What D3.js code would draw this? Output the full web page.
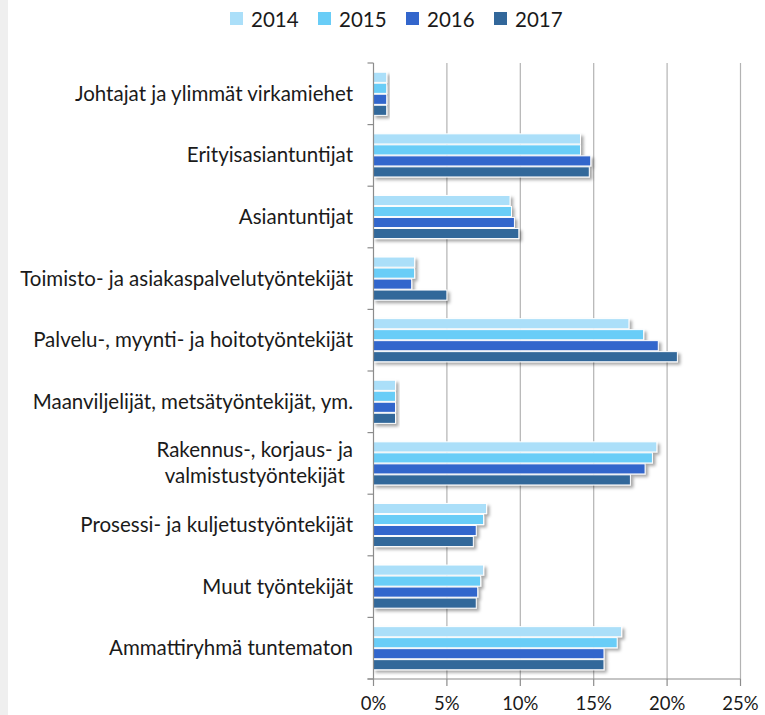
<!DOCTYPE html>
<html lang="fi">
<head>
<meta charset="UTF-8">
<title>Ammattiryhmät 2014-2017</title>
<style>
    body { margin: 0; padding: 0; overflow: hidden; background: #fff; }
    svg { display: block; }
    text { font-family: Lato, "Open Sans", sans-serif; fill: #1a1a1a; }
</style>
</head>
<body>
<script src="https://d3js.org/d3.v7.min.js"></script>
<script>
    const categories = [
        ["Johtajat ja ylimmät virkamiehet"],
        ["Erityisasiantuntijat"],
        ["Asiantuntijat"],
        ["Toimisto- ja asiakaspalvelutyöntekijät"],
        ["Palvelu-, myynti- ja hoitotyöntekijät"],
        ["Maanviljelijät, metsätyöntekijät, ym."],
        ["Rakennus-, korjaus- ja", "valmistustyöntekijät "],
        ["Prosessi- ja kuljetustyöntekijät"],
        ["Muut työntekijät"],
        ["Ammattiryhmä tuntematon"]
    ];
    const years = ["2014", "2015", "2016", "2017"];
    const v2014 = [0.9, 14.1, 9.3, 2.8, 17.4, 1.5, 19.3, 7.7, 7.5, 16.9];
    const v2015 = [0.9, 14.1, 9.4, 2.8, 18.4, 1.5, 19.0, 7.5, 7.3, 16.6];
    const v2016 = [0.9, 14.8, 9.6, 2.6, 19.4, 1.5, 18.5, 7.0, 7.1, 15.7];
    const v2017 = [0.9, 14.7, 9.9, 5.0, 20.7, 1.5, 17.5, 6.8, 7.0, 15.7];
    const xTicks = [0, 5, 10, 15, 20, 25];
    const colors = ["#abdff9", "#69cdf7", "#3366cc", "#32679a"];

    const series = [v2014, v2015, v2016, v2017];
    const width = 765, height = 715;

    const svg = d3.select("body").append("svg")
        .attr("width", width)
        .attr("height", height);

    // grey strip on the left edge
    svg.append("rect").attr("x", 0).attr("y", 0)
        .attr("width", 8).attr("height", height).attr("fill", "#efefef");

    const defs = svg.append("defs");
    defs.append("filter").attr("id", "shadow")
        .attr("x", "-10%").attr("y", "-40%").attr("width", "130%").attr("height", "200%")
        .append("feDropShadow")
        .attr("dx", 2.5).attr("dy", 2.5).attr("stdDeviation", 1.6)
        .attr("flood-color", "#000").attr("flood-opacity", 0.35);

    const x = d3.scaleLinear().domain([0, 25]).range([373.5, 740.5]);
    const y = d3.scaleBand().domain(d3.range(categories.length))
        .range([63, 679]).paddingInner(0.3).paddingOuter(0.15);
    const y1 = d3.scaleBand().domain(years).range([0, y.bandwidth()]).paddingInner(0.08);
    const step = y.step();

    // gridlines
    svg.append("g").selectAll("line")
        .data(xTicks.slice(1))
        .enter().append("line")
        .attr("x1", d => x(d)).attr("x2", d => x(d))
        .attr("y1", 63).attr("y2", 679)
        .attr("stroke", "#b3b3b3").attr("stroke-width", 1.2);

    // bars
    const groups = svg.append("g").selectAll("g")
        .data(categories)
        .enter().append("g")
        .attr("transform", (d, i) => `translate(0,${y(i)})`);

    groups.selectAll("rect")
        .data((d, i) => years.map((yr, j) => ({ yr, j, v: series[j][i] })))
        .enter().append("rect")
        .attr("x", x(0))
        .attr("y", d => y1(d.yr))
        .attr("width", d => x(d.v) - x(0))
        .attr("height", y1.bandwidth())
        .attr("fill", d => colors[d.j])
        .attr("stroke", "#fff")
        .attr("stroke-width", 1)
        .attr("filter", "url(#shadow)");

    // left axis with ticks at band boundaries
    const axisColor = "#8c8c8c";
    svg.append("line").attr("x1", x(0)).attr("x2", x(0))
        .attr("y1", 63).attr("y2", 679)
        .attr("stroke", axisColor).attr("stroke-width", 1.2);
    svg.append("g").selectAll("line")
        .data(d3.range(categories.length + 1))
        .enter().append("line")
        .attr("x1", x(0) - 6).attr("x2", x(0))
        .attr("y1", d => 63 + d * step).attr("y2", d => 63 + d * step)
        .attr("stroke", axisColor).attr("stroke-width", 1.2);

    // bottom axis
    svg.append("line").attr("x1", x(0) - 6).attr("x2", x(25))
        .attr("y1", 679).attr("y2", 679)
        .attr("stroke", axisColor).attr("stroke-width", 1.2);
    svg.append("g").selectAll("line")
        .data(xTicks)
        .enter().append("line")
        .attr("x1", d => x(d)).attr("x2", d => x(d))
        .attr("y1", 679).attr("y2", 686)
        .attr("stroke", axisColor).attr("stroke-width", 1.2);
    svg.append("g").selectAll("text")
        .data(xTicks)
        .enter().append("text")
        .attr("x", d => x(d)).attr("y", 710)
        .attr("text-anchor", "middle")
        .attr("font-size", 18.5)
        .text(d => d + "%");

    // category labels
    const labelRight = 353;
    const labels = svg.append("g").selectAll("text")
        .data(categories)
        .enter().append("text")
        .attr("font-size", 20.5)
        .attr("text-anchor", "middle");
    labels.each(function (lines, i) {
        const t = d3.select(this);
        const cy = 63 + (i + 0.5) * step;
        const lh = 26;
        const spans = lines.map((s, k) => t.append("tspan")
            .attr("y", cy + 7 + (k - (lines.length - 1) / 2) * lh)
            .text(s));
        const w = d3.max(spans, sp => sp.node().getComputedTextLength());
        spans.forEach(sp => sp.attr("x", labelRight - w / 2));
    });

    // legend
    const legend = svg.append("g").selectAll("g")
        .data(years)
        .enter().append("g")
        .attr("transform", (d, i) => `translate(${230 + i * 88},0)`);
    legend.append("rect")
        .attr("x", 0).attr("y", 12).attr("width", 13).attr("height", 13)
        .attr("fill", (d, i) => colors[i]);
    legend.append("text")
        .attr("x", 21).attr("y", 27)
        .attr("font-size", 20.5)
        .text(d => d);
</script>
</body>
</html>
